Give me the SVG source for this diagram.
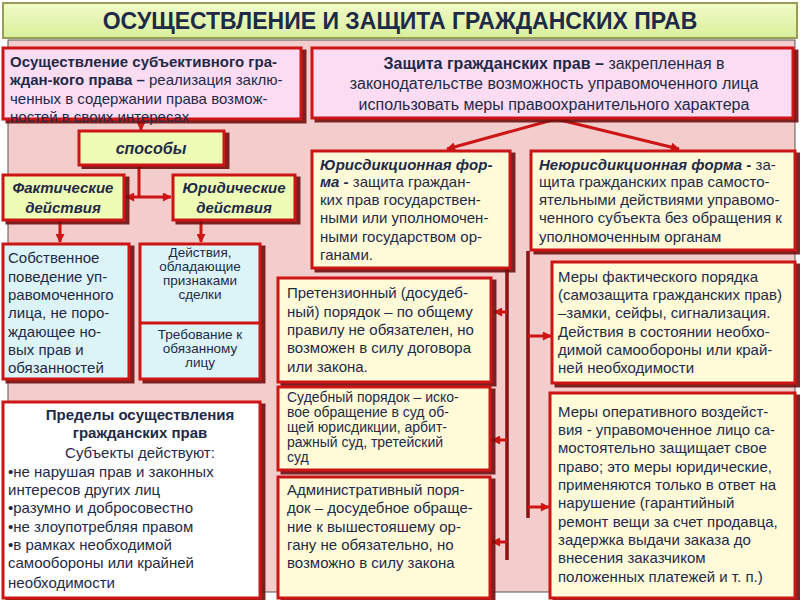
<svg xmlns="http://www.w3.org/2000/svg" width="800" height="600" viewBox="0 0 800 600">
<defs>
<linearGradient id="gTitle" x1="0" y1="0" x2="0" y2="1"><stop offset="0" stop-color="#f1fbc8"/><stop offset="1" stop-color="#d9ef9c"/></linearGradient>
<filter id="sh" x="-5%" y="-5%" width="115%" height="115%"><feDropShadow dx="4" dy="3" stdDeviation="0.6" flood-color="#6e0c0c" flood-opacity="0.9"/></filter>
<marker id="ar" viewBox="0 0 10 10" refX="9" refY="5" markerWidth="10" markerHeight="9" markerUnits="userSpaceOnUse" orient="auto"><path d="M0,0 L10,5 L0,10 Z" fill="#cc1515"/></marker>
<marker id="arS" viewBox="0 0 10 10" refX="1" refY="5" markerWidth="10" markerHeight="9" markerUnits="userSpaceOnUse" orient="auto"><path d="M10,0 L0,5 L10,10 Z" fill="#cc1515"/></marker>
</defs>
<style>
text{font-family:"Liberation Sans",Arial,sans-serif;fill:#1e2a48;font-size:15px}
.b{font-weight:bold}
.bi{font-weight:bold;font-style:italic}
.c{text-anchor:middle}
.s{font-size:13.5px}
.box{stroke:#cc1515;stroke-width:3;filter:url(#sh)}
.pk{fill:#fbdcf3}
.gr{fill:#eefcb6}
.cy{fill:#dcf4f8}
.ye{fill:#fffbd9}
.wh{fill:#ffffff}
.cn{fill:none;stroke:#cc1515;stroke-width:3}
.vl{fill:none;stroke:#8a1212;stroke-width:3.5}
</style>
<rect x="0" y="0" width="800" height="600" fill="#ffffff"/>
<rect x="8" y="40" width="787" height="552" fill="#f3cccc" stroke="#555" stroke-width="1"/>
<g id="title">
<rect x="3" y="3" width="794" height="35" fill="url(#gTitle)" stroke="#9c9c5a" stroke-width="2"/>
<text x="400" y="29" class="b c" style="font-size:23px">ОСУЩЕСТВЛЕНИЕ  И  ЗАЩИТА  ГРАЖДАНСКИХ  ПРАВ</text>
</g>
<g id="connectors">
<path class="cn" d="M141,119 V130" marker-end="url(#ar)"/>
<path class="cn" d="M139,165 V197"/>
<path class="cn" d="M126,197 H171" marker-start="url(#arS)" marker-end="url(#ar)"/>
<path class="cn" d="M60,221 V242" marker-end="url(#ar)"/>
<path class="cn" d="M201,221 V242" marker-end="url(#ar)"/>
<path class="cn" d="M556,119 L447,149" marker-end="url(#ar)"/>
<path class="cn" d="M556,119 L679,149" marker-end="url(#ar)"/>
<path class="vl" d="M507,268 V560"/>
<path class="vl" d="M528,251 V518"/>
<path class="cn" d="M507,312 H494" marker-end="url(#ar)"/>
<path class="cn" d="M507,440 H492" marker-end="url(#ar)"/>
<path class="cn" d="M507,542 H492" marker-end="url(#ar)"/>
<path class="cn" d="M528,336 H551" marker-end="url(#ar)"/>
<path class="cn" d="M528,507 H549" marker-end="url(#ar)"/>
</g>
<g id="realization">
<rect class="box pk" x="3" y="48" width="298" height="71"/>
<text x="10" y="67" class="b">Осуществление субъективного гра-</text>
<text x="10" y="85"><tspan class="b">ждан-кого права –</tspan> реализация заклю-</text>
<text x="10" y="104">ченных в содержании права возмож-</text>
<text x="10" y="122">ностей в своих интересах</text>
</g>
<g id="protection">
<rect class="box pk" x="312" y="48" width="481" height="70"/>
<text x="554" y="69" class="c" style="font-size:16px"><tspan class="b">Защита гражданских прав –</tspan> закрепленная в</text>
<text x="554" y="89" class="c" style="font-size:16px">законодательстве возможность управомоченного лица</text>
<text x="554" y="110" class="c" style="font-size:16px">использовать меры правоохранительного характера</text>
</g>
<g id="sposoby">
<rect class="box gr" x="79" y="131" width="145" height="34"/>
<text x="151" y="154" class="bi c" style="font-size:16px">способы</text>
</g>
<g id="fact">
<rect class="box gr" x="3" y="175" width="121" height="45"/>
<text x="63" y="193" class="bi c">Фактические</text>
<text x="63" y="213" class="bi c">действия</text>
</g>
<g id="legal">
<rect class="box gr" x="173" y="175" width="122" height="45"/>
<text x="234" y="193" class="bi c">Юридические</text>
<text x="234" y="213" class="bi c">действия</text>
</g>
<g id="own-behavior">
<rect class="box cy" x="3" y="244" width="126" height="135"/>
<text x="8" y="263">Собственное</text>
<text x="8" y="282">поведение уп-</text>
<text x="8" y="300">равомоченного</text>
<text x="8" y="318">лица, не поро-</text>
<text x="8" y="337">ждающее но-</text>
<text x="8" y="355">вых прав и</text>
<text x="8" y="373">обязанностей</text>
</g>
<g id="legal-actions">
<rect class="box cy" x="140" y="244" width="120" height="135"/>
<line x1="140" y1="323" x2="260" y2="323" stroke="#cc1515" stroke-width="3"/>
<text x="200" y="257" class="c s">Действия,</text>
<text x="200" y="271" class="c s">обладающие</text>
<text x="200" y="285" class="c s">признаками</text>
<text x="200" y="299" class="c s">сделки</text>
<text x="200" y="339" class="c s">Требование к</text>
<text x="200" y="353" class="c s">обязанному</text>
<text x="200" y="367" class="c s">лицу</text>
</g>
<g id="limits">
<rect class="box wh" x="3" y="402" width="257" height="196"/>
<text x="140" y="420" class="b c">Пределы  осуществления</text>
<text x="140" y="438" class="b c">гражданских прав</text>
<text x="140" y="458" class="c">Субъекты действуют:</text>
<text x="8" y="477">•не нарушая прав и законных</text>
<text x="8" y="495">интересов других лиц</text>
<text x="8" y="513">•разумно и добросовестно</text>
<text x="8" y="532">•не  злоупотребляя правом</text>
<text x="8" y="550">•в рамках необходимой</text>
<text x="8" y="568">самообороны или  крайней</text>
<text x="8" y="588">необходимости</text>
</g>
<g id="jurisdictional">
<rect class="box ye" x="312" y="151" width="198" height="117"/>
<text x="320" y="170" class="bi">Юрисдикционная фор-</text>
<text x="320" y="187"><tspan class="bi">ма  -</tspan> защита граждан-</text>
<text x="320" y="205">ких прав государствен-</text>
<text x="320" y="223">ными или уполномочен-</text>
<text x="320" y="242">ными государством ор-</text>
<text x="320" y="260">ганами.</text>
</g>
<g id="non-jurisdictional">
<rect class="box ye" x="531" y="151" width="264" height="99"/>
<text x="539" y="170"><tspan class="bi">Неюрисдикционная форма</tspan><tspan class="b"> - </tspan>за-</text>
<text x="539" y="187">щита гражданских прав самосто-</text>
<text x="539" y="205">ятельными действиями управомо-</text>
<text x="539" y="223">ченного субъекта без обращения к</text>
<text x="539" y="242">уполномоченным органам</text>
</g>
<g id="claim">
<rect class="box ye" x="278" y="278" width="213" height="104"/>
<text x="287" y="298">Претензионный (досудеб-</text>
<text x="287" y="317">ный) порядок – по общему</text>
<text x="287" y="335">правилу не обязателен, но</text>
<text x="287" y="353">возможен в силу договора</text>
<text x="287" y="372">или закона.</text>
</g>
<g id="court">
<rect class="box ye" x="278" y="387" width="212" height="83"/>
<text x="287" y="402" style="font-size:14px">Судебный порядок – иско-</text>
<text x="287" y="417" style="font-size:14px">вое обращение в суд об-</text>
<text x="287" y="432" style="font-size:14px">щей юрисдикции, арбит-</text>
<text x="287" y="447" style="font-size:14px">ражный суд, третейский</text>
<text x="287" y="462" style="font-size:14px">суд</text>
</g>
<g id="administrative">
<rect class="box ye" x="278" y="477" width="212" height="121"/>
<text x="287" y="495">Административный поря-</text>
<text x="287" y="513">док – досудебное обраще-</text>
<text x="287" y="532">ние к вышестояшему ор-</text>
<text x="287" y="550">гану не обязательно, но</text>
<text x="287" y="568">возможно в силу закона</text>
</g>
<g id="factual-measures">
<rect class="box ye" x="552" y="262" width="243" height="121"/>
<text x="558" y="282">Меры фактического порядка</text>
<text x="558" y="300">(самозащита гражданских прав)</text>
<text x="558" y="318">–замки, сейфы, сигнализация.</text>
<text x="558" y="337">Действия   в состоянии необхо-</text>
<text x="558" y="355">димой самообороны или край-</text>
<text x="558" y="373">ней необходимости</text>
</g>
<g id="operative-measures">
<rect class="box ye" x="550" y="393" width="245" height="205"/>
<text x="558" y="417">Меры оперативного воздейст-</text>
<text x="558" y="435">вия -  управомоченное лицо са-</text>
<text x="558" y="453">мостоятельно защищает свое</text>
<text x="558" y="472">право; это меры юридические,</text>
<text x="558" y="490">применяются  только в ответ на</text>
<text x="558" y="508">нарушение (гарантийный</text>
<text x="558" y="527">ремонт вещи за счет продавца,</text>
<text x="558" y="545">задержка выдачи заказа до</text>
<text x="558" y="563">внесения заказчиком</text>
<text x="558" y="582">положенных платежей и т. п.)</text>
</g>
</svg>
